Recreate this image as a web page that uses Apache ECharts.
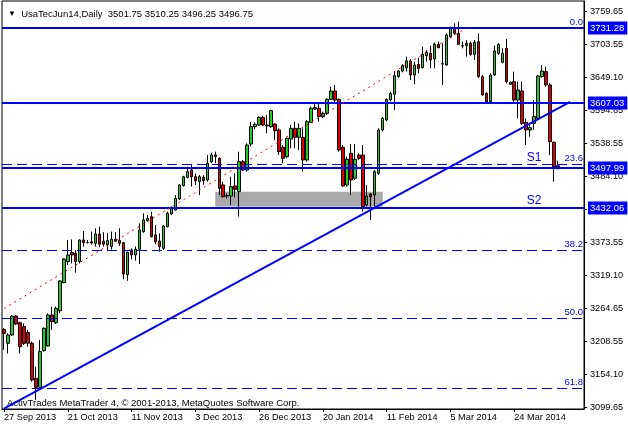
<!DOCTYPE html>
<html>
<head>
<meta charset="utf-8">
<script src="https://cdn.jsdelivr.net/npm/echarts@6/dist/echarts.min.js"></script>
<style>
html,body{margin:0;padding:0;background:#fff;}
#chart{width:628px;height:428px;}
</style>
</head>
<body>
<div id="chart"></div>
<script>
// ---- data ----
const open = [3229,3205.8,3219.7,3251.3,3240.2,3233.6,3224,3205.8,3147.5,3132.4,
3193.6,3201.3,3253,3240.2,3260,3307,3341.9,3357,3355.8,3342,
3378,3373.6,3375,3372.5,3388,3376,3369.7,3367,3379,3377,
3373.6,3320.3,3361.4,3353,3362.5,3392,3410.3,3416.9,3386.4,3376.3,
3364.1,3400.2,3421.3,3428,3446.3,3468.6,3482.4,3494.7,3483.5,3475.2,
3482.4,3478,3508.6,3519.7,3514,3469.7,3452,3451.3,3468,3458.6,
3508.6,3494.7,3538,3566.9,3569.7,3582.4,3569.7,3566.9,3571.3,3561.3,
3532.4,3516.9,3546.3,3564.1,3549.1,3549.1,3511.3,3574,3596.3,3597.4,
3583.5,3589.1,3612.4,3626.3,3612.4,3532.4,3469.7,3522.5,3480.8,3519.7,
3519.7,3436.3,3454.7,3453,3489.1,3561.3,3578,3611.3,3620.8,3650.2,
3659.7,3665.2,3676.3,3653,3670.8,3665.2,3685.2,3689.1,3679.7,3704.1,
3671.3,3669.7,3716.9,3731.9,3722.4,3701.9,3701.9,3705.8,3687.4,3708.6,
3650.2,3622.4,3608.6,3653,3689.1,3674.1,3697.4,3637.4,3641.9,3611.3,
3626.3,3574.1,3561.3,3572.4,3580.8,3650.2,3658.6,3636.3,3540.8,3501.75];
const high = [3231,3222.4,3253,3253,3241.9,3239,3228,3208.6,3166.9,3211.3,
3232.4,3255.8,3266.9,3266.9,3311,3347.5,3378,3379,3361,3379,
3393,3378,3392,3397.5,3400,3391,3390,3392,3391,3397.5,
3374.7,3358.6,3364,3367,3405.8,3422.5,3419.7,3425,3403,3389.1,
3403,3425.2,3434,3453,3471,3485,3500.2,3503,3489,3486.3,
3486,3519.7,3523.6,3525.2,3516,3475,3455.8,3483.5,3489,3525.2,
3511.4,3539,3575,3574,3584,3585,3586.3,3595,3572.4,3564.1,
3536.3,3550.2,3569.7,3575.2,3572.4,3564.1,3578,3600,3605.8,3605.8,
3591.9,3614.1,3633.6,3636.3,3614.1,3536.3,3516.9,3538,3538,3522.5,
3536.3,3469.7,3455.8,3494.7,3564.1,3583,3614,3625,3658.5,3661,
3671,3683.6,3679.7,3675.2,3681.9,3700.2,3694.7,3701.9,3706.9,3708.6,
3705.8,3722.4,3733.6,3739.1,3741.9,3708.6,3711.3,3708.6,3711.3,3722.4,
3653,3624.1,3655.8,3701.9,3705.8,3697.4,3713,3642,3658.6,3641.9,
3641.9,3580.8,3569.7,3611.3,3653,3669.7,3666.9,3639.1,3541.9,3510.25];
const low = [3195,3189,3218,3236.3,3189,3203,3200,3141.9,3111.4,3130.8,
3191.9,3200.2,3228,3238,3256,3306,3336.4,3339,3323.6,3339,
3367,3372.5,3370,3367,3366,3367,3361,3362,3375,3368,
3312.5,3310,3346,3343.6,3338,3390,3408.6,3382,3370.8,3358.5,
3361.3,3399.1,3420,3426.9,3445,3467,3480.8,3466.9,3469.7,3453,
3470,3475.2,3505.8,3505.8,3453,3449,3447.4,3436.3,3449,3417,
3493.6,3491.9,3534,3563,3568,3568,3555.8,3565,3544.7,3519.7,
3505.8,3514.1,3530.8,3530.8,3528,3491.9,3508.6,3573,3594.7,3575.2,
3580.8,3586.3,3611.3,3605.8,3525.2,3466.9,3466.9,3453,3478,3511.3,
3425.3,3433.6,3411.4,3433.6,3486.3,3559,3576,3609,3594.7,3648.6,
3657.5,3658.6,3644.7,3637.4,3655.8,3664.1,3675.2,3664.1,3664.1,3697.4,
3636.3,3668.6,3715.2,3719.7,3703,3697.4,3683.6,3685.2,3678,3648.6,
3618.6,3605.8,3607.4,3651.9,3686.3,3672.4,3639.1,3636.3,3605.8,3580.8,
3569.7,3536.3,3550.2,3561.3,3579.7,3648.6,3633.6,3519.7,3475.2,3496.25];
const close = [3222.4,3219.7,3251.3,3238,3200.2,3205.8,3205.8,3144.7,3132.4,3191.9,
3230.8,3253,3241.9,3264.1,3309.7,3346.4,3353,3353,3342,3378,
3373.6,3373.3,3373,3388,3371,3371,3377,3379,3376,3372.5,
3321.4,3357.5,3353,3362.5,3394.7,3411.4,3414,3383.6,3375,3366.9,
3401.3,3422.4,3432.4,3447.4,3469.7,3483.5,3491.9,3483.5,3476.9,3483.5,
3476.9,3505.8,3519.7,3516.9,3464,3450.2,3451.3,3466.9,3462.5,3508.6,
3494.7,3536.3,3566.9,3570.8,3582.4,3569.7,3568,3593.6,3560.2,3525.2,
3514.1,3547.4,3564.1,3549.1,3564.1,3511.3,3575.2,3597.4,3598.6,3583.5,
3589.1,3612.4,3626.3,3611.3,3528,3468,3512.5,3478,3512.5,3514.1,
3433.6,3451.3,3450.2,3491.9,3561.3,3580.8,3612.4,3622.4,3651.9,3659.7,
3668.6,3676.3,3653,3669.7,3664.1,3687.4,3690.8,3678,3704.1,3698.6,
3671.9,3719.7,3730.8,3722.4,3704.1,3701.3,3705.8,3687.4,3707.4,3650.2,
3619.7,3608.6,3653,3693,3704.1,3689.1,3641.9,3640.8,3611.3,3628,
3572.4,3561.3,3565.2,3583.6,3651.3,3659.7,3636.3,3541.9,3500.2,3496.75];

const slotCount = 146;                       // bar slots incl. right shift
const xTickIdx  = [0,16,32,48,64,80,96,112,128];
const xTickText = ['27 Sep 2013','21 Oct 2013','11 Nov 2013','3 Dec 2013','26 Dec 2013','20 Jan 2014','11 Feb 2014','5 Mar 2014','24 Mar 2014'];
const yTicks = [3759.65,3703.55,3649.10,3594.65,3538.55,3484.10,3429.65,3373.55,3319.10,3264.65,3208.55,3154.10,3099.65];
const yMin = 3096.32, yMax = 3776.32;

const levels = [3731.28, 3607.03, 3497.99, 3432.06];
const fibRatios = [0.0, 23.6, 38.2, 50.0, 61.8];
const fibHigh = 3731.28, fibLow = 2761.28;
const trendLine = [[0, 3096.8], [142, 3608.0]];
const fibDiagonal = [[0, 3263.7], [116, 3731.28]];
const zone = {from: 53, to: 95, top: 3458.5, bottom: 3434};
const sLabels = [['S1', 133, 3514.7], ['S2', 133, 3443.0]];
const symbolName = 'UsaTecJun14,Daily';

// ---- build ----
const FONT = 'Liberation Sans, Arial, sans-serif';
const BLUE = '#0000ff';
const categories = Array.from({length: slotCount}, (_, i) => String(i));
const candles = open.map((o, i) => [o, close[i], low[i], high[i]]);
const tickMap = {};
xTickIdx.forEach((k, j) => tickMap[k] = xTickText[j]);
const last = open.length - 1;
const fmt = v => v.toFixed(2);

function buildMarkLines(snap) {
  const hLines = levels.map(v => ({
    yAxis: snap(v, 2),
    lineStyle: {color: BLUE, width: 2, type: 'solid'},
    label: {show: true, position: 'end', distance: 4, formatter: fmt(v),
      color: '#fff', backgroundColor: BLUE, padding: [1, 3, 1, 2],
      fontFamily: FONT, fontSize: 9.5, lineHeight: 11}
  }));
  const fibLines = fibRatios.map(r => ({
    yAxis: snap(fibHigh - r / 100 * (fibHigh - fibLow), 1),
    lineStyle: {color: BLUE, width: 1, type: [10, 5]},
    label: {show: true, position: 'insideEndTop', distance: [1, 1], formatter: r.toFixed(1),
      color: BLUE, fontFamily: FONT, fontSize: 9.5}
  }));
  const diag = [
    [{coord: trendLine[0], lineStyle: {color: BLUE, width: 2, type: 'solid'}}, {coord: trendLine[1]}],
    [{coord: fibDiagonal[0], lineStyle: {color: '#ff0000', width: 1, type: [2, 4]}}, {coord: fibDiagonal[1]}]
  ];
  return [...fibLines, ...hLines, ...diag];
}

const chart = echarts.init(document.getElementById('chart'), null, {renderer: 'canvas'});
chart.setOption({
  animation: false,
  backgroundColor: '#fff',
  textStyle: {fontFamily: FONT},
  title: {
    text: '{t|▼}  ' + symbolName + '  ' + [open[last], high[last], low[last], close[last]].map(fmt).join(' '),
    left: 3, top: 4,
    textStyle: {fontFamily: FONT, fontSize: 9.5, fontWeight: 'normal', color: '#000',
      rich: {t: {fontSize: 8, color: '#000'}}}
  },
  graphic: [{
    type: 'text', left: 7, top: 398, silent: true,
    style: {text: 'ActivTrades MetaTrader 4, © 2001-2013, MetaQuotes Software Corp.',
      font: '9.5px Liberation Sans, Arial, sans-serif', fill: '#000'}
  }],
  grid: {left: 2, right: 44, top: 1, bottom: 19, containLabel: false, outerBoundsMode: 'none',
    show: true, borderColor: '#000', borderWidth: 1, backgroundColor: 'transparent'},
  xAxis: {
    type: 'category', data: categories, boundaryGap: true,
    axisLine: {show: true, lineStyle: {color: '#000', width: 1}},
    axisTick: {show: true, alignWithLabel: true, length: 3, interval: (i) => tickMap[i] !== undefined,
      lineStyle: {color: '#000'}},
    axisLabel: {show: true, interval: (i) => tickMap[i] !== undefined, formatter: (v, i) => tickMap[i] || '',
      align: 'left', margin: 4, color: '#000', fontFamily: FONT, fontSize: 9.2},
    splitLine: {show: false}
  },
  yAxis: {
    type: 'value', position: 'right', min: yMin, max: yMax, scale: true,
    axisLine: {show: true, lineStyle: {color: '#000', width: 1}},
    axisTick: {show: true, length: 3, customValues: yTicks, lineStyle: {color: '#000'}},
    axisLabel: {show: true, customValues: yTicks, formatter: v => fmt(v), margin: 6,
      color: '#000', fontFamily: FONT, fontSize: 9.2},
    splitLine: {show: false}
  },
  series: [{
    type: 'candlestick',
    data: candles,
    barWidth: 3,
    itemStyle: {color: '#22cc22', color0: '#e00000', borderColor: '#000', borderColor0: '#000',
      borderColorDoji: '#000', borderWidth: 1},
    markArea: {
      silent: true,
      itemStyle: {color: '#a9a9a9', opacity: 1},
      data: [[{coord: [zone.from, zone.top]}, {coord: [zone.to, zone.bottom]}]]
    },
    markLine: {
      silent: true, symbol: ['none', 'none'], animation: false,
      label: {show: false},
      data: buildMarkLines(v => v)
    },
    markPoint: {
      silent: true, symbol: 'rect', symbolSize: 1,
      itemStyle: {color: 'rgba(0,0,0,0)'},
      label: {show: true, position: 'inside', color: BLUE, fontFamily: FONT, fontSize: 12,
        formatter: p => p.name},
      data: sLabels.map(s => ({name: s[0], coord: [s[1], s[2]]}))
    }
  }]
});

// crisp horizontal lines: snap each level to the pixel grid through the axis scale
// (1px lines go on even pixel rows so their colour survives chroma subsampling)
const snapper = (v, w) => {
  const py = chart.convertToPixel({yAxisIndex: 0}, v);
  const target = w % 2 === 1 ? 2 * Math.round((py - 0.5) / 2) + 0.5 : Math.round(py);
  return chart.convertFromPixel({yAxisIndex: 0}, target);
};
chart.setOption({series: [{markLine: {data: buildMarkLines(snapper)}}]});
</script>
</body>
</html>
